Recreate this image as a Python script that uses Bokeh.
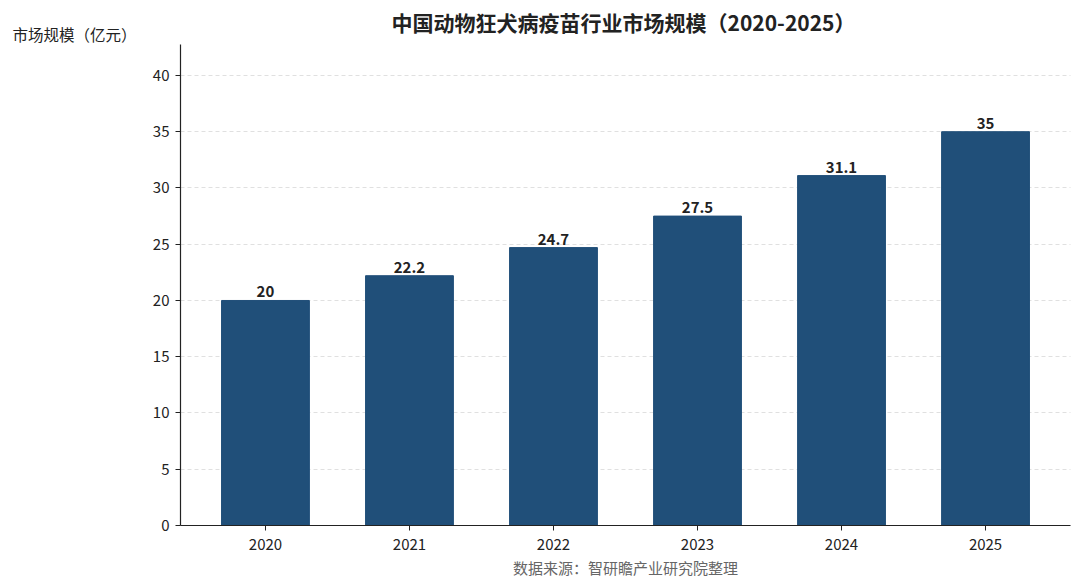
from bokeh.plotting import figure
from bokeh.models import Range1d, FixedTicker, LabelSet, ColumnDataSource, Label
from bokeh.core.properties import value
from bokeh.embed import file_html
from bokeh.resources import INLINE

years = ["2020", "2021", "2022", "2023", "2024", "2025"]
values = [20, 22.2, 24.7, 27.5, 31.1, 35]
value_labels = ["20", "22.2", "24.7", "27.5", "31.1", "35"]
y_ticks = [0, 5, 10, 15, 20, 25, 30, 35, 40]
title_text = "中国动物狂犬病疫苗行业市场规模（2020-2025）"
ylabel_text = "市场规模（亿元）"
source_text = "数据来源：智研瞻产业研究院整理"

FONT = "Noto Sans CJK SC"
W, H = 1080, 586
# plot-area geometry (pixels)
AX_L, AX_R, AX_T, AX_B = 180, 1070, 44, 525
X_PAD = 0.59
Y_TOP = 42.75

xs = list(range(len(years)))
x0, x1 = -X_PAD, len(years) - 1 + X_PAD
ppx = (AX_R - AX_L) / (x1 - x0)
ppy = (AX_B - AX_T) / Y_TOP
xr = Range1d(x0 - AX_L / ppx, x1 + (W - AX_R) / ppx)
yr = Range1d(-(H - AX_B) / ppy, AX_B / ppy)

src = ColumnDataSource(dict(x=xs, top=values, lab=value_labels))

p = figure(width=W, height=H, output_backend="svg", toolbar_location=None,
           x_range=xr, y_range=yr, min_border=0,
           min_border_left=0, min_border_right=0, min_border_top=0, min_border_bottom=0)
p.outline_line_color = None
p.background_fill_color = "white"
p.border_fill_color = "white"

p.vbar(x="x", top="top", width=0.61, source=src, color="#204f79")

labels = LabelSet(x="x", y="top", text="lab", source=src, text_align="center",
                  text_baseline="bottom", y_offset=3, text_font=value(FONT),
                  text_font_size="15px", text_font_style="bold", text_color="#222222")
p.add_layout(labels)

p.xaxis.ticker = FixedTicker(ticks=xs)
p.xaxis.major_label_overrides = {i: y for i, y in enumerate(years)}
p.yaxis.ticker = FixedTicker(ticks=y_ticks)
p.xaxis.fixed_location = 0
p.yaxis.fixed_location = x0
p.xaxis.bounds = (x0, x1)
p.yaxis.bounds = (0, Y_TOP)
for ax in (p.xaxis, p.yaxis):
    ax.major_label_text_font = FONT
    ax.major_label_text_font_size = "15px"
    ax.major_label_text_color = "#222222"
    ax.axis_line_color = "#222222"
    ax.axis_line_width = 1.2
    ax.major_tick_line_color = "#222222"
    ax.major_tick_out = 5
    ax.major_tick_in = 0
    ax.minor_tick_line_color = None
p.xaxis.major_label_standoff = 8
p.yaxis.major_label_standoff = 6

p.xgrid.grid_line_color = None
p.ygrid.grid_line_color = "#e0e0e0"
p.ygrid.grid_line_dash = "4 3"
p.ygrid.grid_line_width = 1
p.ygrid.ticker = FixedTicker(ticks=y_ticks)
if "cross_bounds" in p.ygrid[0].properties():
    p.ygrid.cross_bounds = (x0, x1)

p.add_layout(Label(x=623, y=H - 21, x_units="screen", y_units="screen",
                   text=title_text, text_align="center", text_baseline="middle",
                   text_font=FONT, text_font_size="21px", text_font_style="bold",
                   text_color="#222222"))
p.add_layout(Label(x=12, y=H - 33, x_units="screen", y_units="screen",
                   text=ylabel_text, text_align="left", text_baseline="middle",
                   text_font=FONT, text_font_size="15.5px", text_color="#222222"))
p.add_layout(Label(x=625, y=H - 567, x_units="screen", y_units="screen",
                   text=source_text, text_align="center", text_baseline="middle",
                   text_font=FONT, text_font_size="15px", text_color="#666666"))

open("out.html", "w").write(file_html(p, INLINE))
